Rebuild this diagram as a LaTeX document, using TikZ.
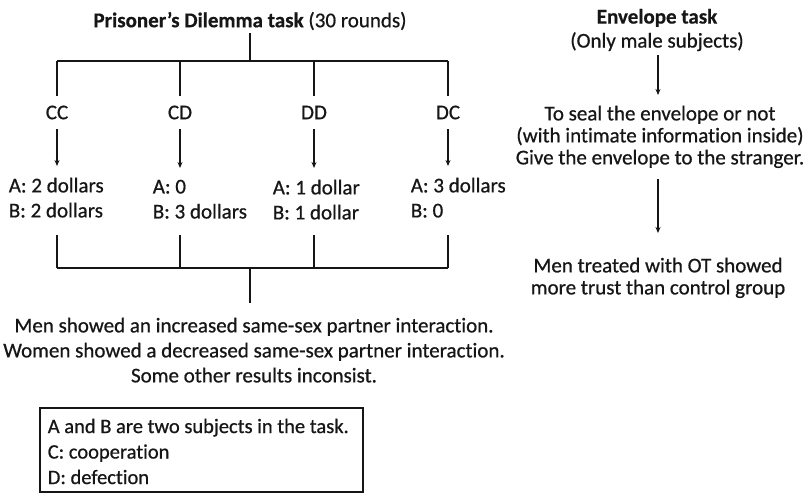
\documentclass[tikz,border=0pt]{standalone}
\usepackage{fontspec}
\setmainfont{Carlito}[Ligatures=NoCommon, UprightFeatures={FakeBold=0.7}, BoldFeatures={FakeBold=0.5}]
\usetikzlibrary{arrows.meta}
\definecolor{ink}{HTML}{161616}
\begin{document}
\begin{tikzpicture}[x=1pt,y=-1pt,
  line width=1.6pt, draw=ink,
  every node/.style={font=\fontsize{21}{25}\selectfont, text=ink, inner sep=0pt},
  lab/.style={minimum height=31pt},
  pay/.style={align=left, anchor=north west, inner xsep=0pt, inner ysep=11pt},
  arr/.style={draw=ink, -{Stealth[length=6pt,width=5pt]}},
  keytext/.style={align=left, anchor=north west, font=\fontsize{20.5}{25.5}\selectfont}
]
\useasboundingbox (0,0) rectangle (810,495);

% Prisoner's dilemma
\node[minimum height=22pt] (pd) at (250,21) {\textbf{Prisoner’s Dilemma task} (30 rounds)};
\coordinate (t1) at (57,61);
\coordinate (t2) at (180,61);
\coordinate (t3) at (314,61);
\coordinate (t4) at (448,61);
\draw[ink] (pd.south) -- (pd.south |- t1);
\draw[ink] (t1) -- (t4);

\node[lab] (cc) at (57,112.5) {CC};
\node[lab] (cd) at (180,112.5) {CD};
\node[lab] (dd) at (314,112.5) {\raisebox{-2pt}{DD}};
\node[lab] (dc) at (448,112.5) {DC};
\foreach \t/\n in {t1/cc,t2/cd,t3/dd,t4/dc} \draw[ink] (\t) -- (\n.north);

\node[pay] (ccp) at (8,166) {A: 2 dollars\\B: 2 dollars};
\node[pay] (cdp) at (152,168) {A: 0\\B: 3 dollars};
\node[pay] (ddp) at (272,168) {A: 1 dollar\\B: 1 dollar};
\node[pay] (dcp) at (410,166) {A: 3 dollars\\B: 0};
\draw[arr] (cc.south) -- (cc.south |- ccp.north);
\draw[arr] (cd.south) -- (cd.south |- cdp.north);
\draw[arr] (dd.south) -- (dd.south |- ddp.north);
\draw[arr] (dc.south) -- (dc.south |- dcp.north);

\coordinate (l1) at (57,235);
\coordinate (l2) at (180,235);
\coordinate (l3) at (314,235);
\coordinate (l4) at (448,235);
\coordinate (b1) at (57,268);
\coordinate (b2) at (180,268);
\coordinate (b3) at (314,268);
\coordinate (b4) at (448,268);
\coordinate (bm) at (250,268);
\foreach \a/\b in {l1/b1,l2/b2,l3/b3,l4/b4} \draw[ink] (\a) -- (\b);
\draw[ink] (b1) -- (b4);

\node[align=center, anchor=north, inner ysep=14pt] (res) at (254,303)
  {Men showed an increased same-sex partner interaction.\\
   Women showed a decreased same-sex partner interaction.\\
   Some other results inconsist.};
\draw[ink] (bm) -- (bm |- res.north);

% key box
\coordinate (k1) at (40,408);
\coordinate (k2) at (363,492);
\draw[ink] (k1) rectangle (k2);
\node[keytext] (key) at (47,418)
  {A and B are two subjects in the task.\\
   C: cooperation\\
   D: defection};

% Envelope task
\node[align=center, font=\fontsize{21}{24}\selectfont, inner ysep=3pt] (env) at (657,30)
  {\textbf{Envelope task}\\(Only male subjects)};
\node[align=center, font=\fontsize{21}{22}\selectfont, anchor=north, inner ysep=10pt] (seal) at (660,95)
  {To seal the envelope or not\\(with intimate information inside)\\Give the envelope to the stranger.};
\node[align=center, font=\fontsize{21}{22}\selectfont, anchor=north, inner ysep=24pt] (men) at (658,233)
  {Men treated with OT showed\\more trust than control group};
\draw[arr] (env.south -| 658,0) -- (658,0 |- seal.north);
\draw[arr] (658,0 |- seal.south) -- (658,0 |- men.north);
\end{tikzpicture}
\end{document}
